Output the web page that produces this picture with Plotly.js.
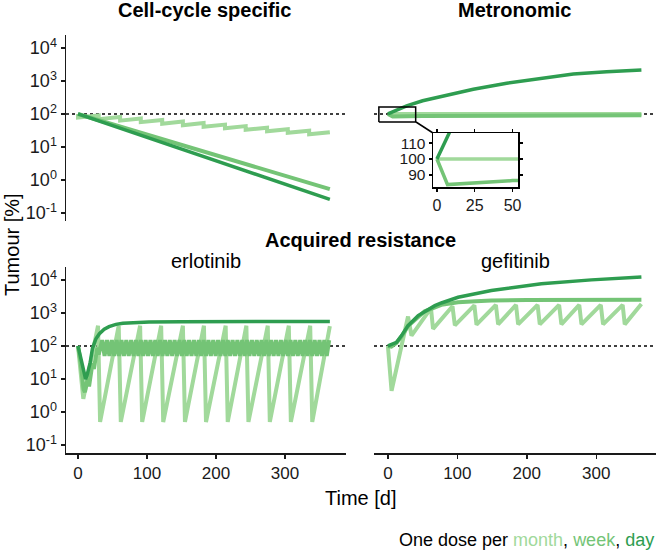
<!DOCTYPE html>
<html><head><meta charset="utf-8">
<script src="https://cdn.plot.ly/plotly-3.0.1.min.js"></script>
<style>body{margin:0;background:#fff;}#chart{width:657px;height:553px;}</style>
</head><body><div id="chart"></div>
<script>
// ---------- data ----------
const colMonth = '#a1d99b', colWeek = '#74c476', colDay = '#2e9d50';
const baseline = 100;

// Cell-cycle specific
const ccDayT = [0, 91, 182, 274, 365];
const ccDayY = [100, 22.7, 5.1, 1.16, 0.26];
const ccWeekT = [0, 91, 182, 274, 365];
const ccWeekY = [100, 27, 7.3, 1.95, 0.53];
const ccMonthT = [0,0,30,30,61,61,91,91,122,122,152,152,182,182,213,213,243,243,274,274,304,304,335,335,365];
const ccMonthY = [100,77.6,89.9,69.8,80.9,62.8,72.8,56.5,65.5,50.8,58.9,45.7,53.0,41.1,47.6,37.0,42.9,33.3,38.5,29.9,34.7,26.9,31.2,24.2,28.1];

// Metronomic
const metDayT = [0, 8, 27, 50, 75, 123, 171, 220, 267, 315, 365];
const metDayY = [100, 116, 175, 250, 333, 560, 850, 1200, 1620, 1900, 2140];
const metWeekT = [0, 7, 50, 150, 250, 365];
const metWeekY = [100, 84, 86.5, 88, 89.5, 91];
const metMonthT = [0, 50, 365];
const metMonthY = [100, 100, 100];

// Acquired resistance - erlotinib
const erlDayT = [0, 4, 8, 11, 13, 17.7, 21, 23, 26, 31, 38, 45, 55, 65, 80, 103, 150, 200, 365];
const erlDayY = [100, 45, 16, 10, 12.6, 32, 85, 120, 165, 235, 320, 385, 450, 490, 515, 530, 545, 550, 550];
const erlWeekT = [0, 4, 8, 10, 14, 16, 21, 23, 28, 30,
  35, 38.5, 42, 45.5, 49, 52.5, 56, 59.5, 63, 66.5, 70, 73.5, 77, 80.5, 84, 87.5, 91, 94.5, 98, 101.5,
  105, 108.5, 112, 115.5, 119, 122.5, 126, 129.5, 133, 136.5, 140, 143.5, 147, 150.5, 154, 157.5, 161, 164.5,
  168, 171.5, 175, 178.5, 182, 185.5, 189, 192.5, 196, 199.5, 203, 206.5, 210, 213.5, 217, 220.5, 224, 227.5,
  231, 234.5, 238, 241.5, 245, 248.5, 252, 255.5, 259, 262.5, 266, 269.5, 273, 276.5, 280, 283.5, 287, 290.5,
  294, 297.5, 301, 304.5, 308, 311.5, 315, 318.5, 322, 325.5, 329, 332.5, 336, 339.5, 343, 346.5, 350, 353.5,
  357, 360.5, 364];
const erlWeekY = [100, 30, 5, 4, 10, 6, 30, 20, 90, 55,
  150, 50, 150, 50, 150, 50, 150, 50, 150, 50, 150, 50, 150, 50, 150, 50, 150, 50, 150, 50,
  150, 50, 150, 50, 150, 50, 150, 50, 150, 50, 150, 50, 150, 50, 150, 50, 150, 50,
  150, 50, 150, 50, 150, 50, 150, 50, 150, 50, 150, 50, 150, 50, 150, 50, 150, 50,
  150, 50, 150, 50, 150, 50, 150, 50, 150, 50, 150, 50, 150, 50, 150, 50, 150, 50,
  150, 50, 150, 50, 150, 50, 150, 50, 150, 50, 150, 50, 150, 50, 150, 50, 150, 50,
  150, 50, 150];
const erlMonthT = [0, 7.7, 29, 32, 59, 62, 90, 93, 120.5, 123.5, 152, 155, 182.5, 185.5, 214, 217, 244, 247, 275, 278, 305.5, 308.5, 336.5, 339.5, 365];
const erlMonthY = [100, 2.5, 410, 0.5, 410, 0.5, 410, 0.5, 410, 0.5, 410, 0.5, 410, 0.5, 410, 0.5, 410, 0.5, 410, 0.5, 410, 0.5, 410, 0.5, 400];

// Acquired resistance - gefitinib
const gefDayT = [0, 5, 12.5, 19.7, 29, 43.6, 53, 67.6, 77, 101, 149, 221, 293, 365];
const gefDayY = [100, 110, 129, 206, 412, 830, 1120, 1660, 2000, 2970, 4760, 7620, 10000, 12300];
const gefWeekT = [0, 5, 12.5, 20, 29, 44, 53, 77, 101, 127, 149, 200, 250, 300, 365];
const gefWeekY = [100, 95, 125, 200, 400, 800, 1120, 1750, 2090, 2250, 2360, 2450, 2490, 2500, 2520];
const gefMonthT = [0, 5.3, 29, 34, 62, 65, 93, 96.4, 124.5, 127.6, 155.5, 158.7, 184.5, 187.5, 215.5, 218.7, 246.5, 249.8, 275.5, 278.7, 306.5, 309.8, 338, 341, 365];
const gefMonthY = [100, 4.4, 780, 205, 1400, 330, 1600, 420, 1700, 440, 1750, 450, 1750, 450, 1750, 450, 1750, 450, 1750, 450, 1750, 450, 1750, 450, 1850];

// ticks & ranges
const logTickVals = [0.1, 1, 10, 100, 1000, 10000];
const logTickText = ['10<sup>-1</sup>', '10<sup>0</sup>', '10<sup>1</sup>', '10<sup>2</sup>', '10<sup>3</sup>', '10<sup>4</sup>'];
const timeTickVals = [0, 100, 200, 300];
const insetXTicks = [0, 25, 50];
const insetYTicks = [90, 100, 110];
const timeRangeL = [-17.4, 388.4];
const timeRangeR = [-20, 386];
const logRange = [-1.24, 4.39];
const insetXRange = [-2.6, 53.6];
const insetYRange = [82.5, 116.3];
const zoomBoxX = [-13, 40, 40, -13, -13];
const zoomBoxY = [57, 57, 163, 163, 57];

// ---------- figure ----------
const W = 657, H = 553;
const px = v => v / W;
const py = v => 1 - v / H;
const FONT = 'Liberation Sans, Arial, sans-serif';
const ink = '#1a1a1a';

function ln(x, y, color, width, xa, ya, dash) {
  return {type: 'scatter', mode: 'lines', x: x, y: y, xaxis: xa, yaxis: ya,
          line: {color: color, width: width, dash: dash || 'solid'}, hoverinfo: 'skip', showlegend: false};
}
function base(range, xa, ya) {
  return ln(range, [baseline, baseline], '#000', 1.5, xa, ya, 'dot');
}

const traces = [
  base(timeRangeL, 'x', 'y'),
  ln(ccMonthT, ccMonthY, colMonth, 4, 'x', 'y'),
  ln(ccWeekT, ccWeekY, colWeek, 4, 'x', 'y'),
  ln(ccDayT, ccDayY, colDay, 3.5, 'x', 'y'),

  base(timeRangeR, 'x2', 'y2'),
  ln(metMonthT, metMonthY, colMonth, 4, 'x2', 'y2'),
  ln(metWeekT, metWeekY, colWeek, 4, 'x2', 'y2'),
  ln(metDayT, metDayY, colDay, 3.5, 'x2', 'y2'),
  ln(zoomBoxX, zoomBoxY, '#000', 1.5, 'x2', 'y2'),

  base(timeRangeL, 'x3', 'y3'),
  ln(erlMonthT, erlMonthY, colMonth, 4, 'x3', 'y3'),
  ln(erlWeekT, erlWeekY, colWeek, 4, 'x3', 'y3'),
  ln(erlDayT, erlDayY, colDay, 3.5, 'x3', 'y3'),

  base(timeRangeR, 'x4', 'y4'),
  ln(gefMonthT, gefMonthY, colMonth, 4, 'x4', 'y4'),
  ln(gefWeekT, gefWeekY, colWeek, 4, 'x4', 'y4'),
  ln(gefDayT, gefDayY, colDay, 3.5, 'x4', 'y4'),

  ln(metMonthT, metMonthY, colMonth, 3.5, 'x5', 'y5'),
  ln(metWeekT, metWeekY, colWeek, 3.5, 'x5', 'y5'),
  ln(metDayT, metDayY, colDay, 3.5, 'x5', 'y5')
];

const domL = [px(66), px(346)], domR = [px(374), px(656)];
const domTop = [py(221), py(35)], domBot = [py(453), py(267)];

function yLog(domain, anchor, visible) {
  return {domain: domain, anchor: anchor, type: 'log', range: logRange, visible: visible,
    showline: true, linecolor: ink, linewidth: 1.5, ticks: 'outside', ticklen: 4, tickwidth: 1.5, tickcolor: ink,
    tickvals: logTickVals, ticktext: logTickText, tickfont: {family: FONT, size: 18, color: ink},
    showgrid: false, zeroline: false, fixedrange: true};
}
function xTime(domain, anchor, range, visible) {
  return {domain: domain, anchor: anchor, range: range, visible: visible,
    showline: true, linecolor: ink, linewidth: 1.5, ticks: 'outside', ticklen: 4, tickwidth: 1.5, tickcolor: ink,
    tickvals: timeTickVals, tickfont: {family: FONT, size: 17, color: ink},
    showgrid: false, zeroline: false, fixedrange: true};
}

function ann(text, x, y, size, bold, extra) {
  return Object.assign({text: bold ? '<b>' + text + '</b>' : text, x: px(x), y: py(y), xref: 'paper', yref: 'paper',
    xanchor: 'center', yanchor: 'middle', showarrow: false, font: {family: FONT, size: size, color: '#000'}}, extra || {});
}

const layout = {
  width: W, height: H, margin: {l: 0, r: 0, t: 0, b: 0},
  paper_bgcolor: '#fff', plot_bgcolor: 'rgba(0,0,0,0)', showlegend: false,
  xaxis: xTime(domL, 'y', timeRangeL, false),
  yaxis: yLog(domTop, 'x', true),
  xaxis2: xTime(domR, 'y2', timeRangeR, false),
  yaxis2: yLog(domTop, 'x2', false),
  xaxis3: xTime(domL, 'y3', timeRangeL, true),
  yaxis3: yLog(domBot, 'x3', true),
  xaxis4: xTime(domR, 'y4', timeRangeR, true),
  yaxis4: yLog(domBot, 'x4', false),
  xaxis5: {domain: [px(433), px(518)], anchor: 'y5', range: insetXRange, showline: true, mirror: 'ticks',
    linecolor: '#000', linewidth: 1.5, ticks: 'outside', ticklen: 3, tickwidth: 1.2, tickcolor: '#000',
    tickvals: insetXTicks, tickfont: {family: FONT, size: 16, color: ink}, showgrid: false, zeroline: false, fixedrange: true},
  yaxis5: {domain: [py(187), py(133)], anchor: 'x5', range: insetYRange, showline: true, mirror: 'ticks',
    linecolor: '#000', linewidth: 1.5, ticks: 'outside', ticklen: 3, tickwidth: 1.2, tickcolor: '#000',
    tickvals: insetYTicks, tickfont: {family: FONT, size: 15.5, color: ink}, showgrid: false, zeroline: false, fixedrange: true},
  shapes: [
    {type: 'line', xref: 'paper', yref: 'paper', x0: px(416), y0: py(122), x1: px(433), y1: py(133),
     line: {color: '#000', width: 1.5}}
  ],
  annotations: [
    ann('Cell-cycle specific', 204, 10, 20, true),
    ann('Metronomic', 514, 10, 20, true),
    ann('Acquired resistance', 360, 240, 20, true),
    ann('erlotinib', 206, 261, 20, false),
    ann('gefitinib', 515, 261, 20, false),
    ann('Time [d]', 361, 498, 20, false),
    ann('Tumour [%]', 12, 245, 20, false, {textangle: -90}),
    ann('One dose per <span style="color:' + colMonth + '">month</span>, <span style="color:' + colWeek +
        '">week</span>, <span style="color:' + colDay + '">day</span>', 656, 540, 18, false, {xanchor: 'right'})
  ]
};

Plotly.newPlot('chart', traces, layout, {staticPlot: true, displayModeBar: false});
</script>
</body></html>
